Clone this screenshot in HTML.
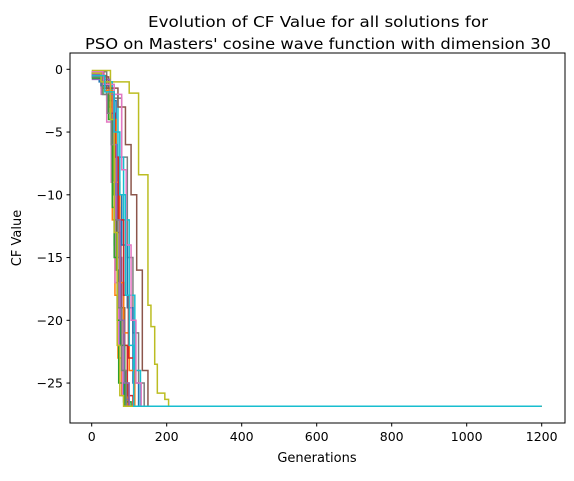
<!DOCTYPE html>
<html><head><meta charset="utf-8"><style>
body{margin:0;background:#fff}
svg{font-family:"DejaVu Sans","Liberation Sans",sans-serif}
</style></head><body>
<svg id="c" width="574" height="476" xmlns="http://www.w3.org/2000/svg">
<rect width="574" height="476" fill="#fff"/>
<text x="318" y="27" font-size="15" text-anchor="middle" textLength="340" lengthAdjust="spacingAndGlyphs">Evolution of CF Value for all solutions for</text>
<text x="318" y="49" font-size="15" text-anchor="middle" textLength="466" lengthAdjust="spacingAndGlyphs">PSO on Masters' cosine wave function with dimension 30</text>
<g id="plot"></g>
<rect x="70" y="53" width="495" height="370" fill="none" stroke="#000" stroke-width="1"/>
<g id="axes"></g>
<text x="317" y="462" font-size="13" text-anchor="middle">Generations</text>
<text x="21" y="238" font-size="13" text-anchor="middle" transform="rotate(-90 21 238)">CF Value</text>
</svg>
<script>
const xTicks=[0,200,400,600,800,1000,1200];
const yTicks=[0,-5,-10,-15,-20,-25];
const finalValue=-26.85;
const lastGen=1200;
const s0=[[0,-0.3],[20,-1],[40,-2.5],[55,-8],[60,-14],[68,-20],[75,-25],[85,-26.5],[100,-26.85]];
const s1=[[0,-0.5],[25,-1.5],[45,-3],[55,-12],[62,-18],[70,-23],[80,-26],[95,-26.85]];
const s2=[[0,-0.4],[30,-1.2],[50,-4],[58,-10],[65,-16],[72,-25],[90,-26.5],[105,-26.85]];
const s3=[[0,-0.6],[35,-1.5],[55,-5],[65,-11],[75,-17],[85,-22],[95,-26],[110,-26.85]];
const s4=[[0,-0.8],[30,-1],[50,-3],[60,-9],[70,-15],[80,-24],[90,-26.3],[100,-26.85]];
const s5=[[0,-0.3],[28,-0.6],[45,-1.5],[60,-6],[68,-13],[78,-19],[88,-25],[98,-26.85]];
const s6=[[0,-0.5],[25,-2],[40,-4.2],[52,-9],[62,-17],[72,-22],[82,-26],[92,-26.85]];
const s7=[[0,-0.2],[40,-2],[60,-2.3],[80,-7],[95,-15],[110,-21],[125,-25],[140,-26.85]];
const s8=[[0,-0.1],[50,-1],[80,-1],[100,-1.9],[115,-1.9],[125,-8.4],[145,-8.4],[150,-18.8],[158,-20.5],[168,-23.5],[175,-25.8],[195,-26.3],[205,-26.85]];
const s9=[[0,-0.4],[30,-1],[55,-2],[70,-7],[85,-12],[100,-18],[115,-24],[130,-26.85]];
const s10=[[0,-0.6],[25,-1.3],[50,-2.5],[65,-10],[80,-14],[95,-19],[110,-25],[125,-26.85]];
const s11=[[0,-0.5],[35,-1.7],[55,-4],[65,-9],[75,-17],[85,-21],[100,-24],[115,-26.85]];
const s12=[[0,-0.7],[30,-2],[45,-4],[55,-11],[60,-15],[68,-20],[78,-22],[88,-26.85]];
const s13=[[0,-0.3],[32,-1.2],[50,-3.5],[62,-7],[72,-12],[85,-18],[98,-23],[112,-26.85]];
const s14=[[0,-0.4],[30,-0.8],[48,-2],[58,-6],[66,-12],[76,-20],[86,-25],[100,-26.85]];
const s15=[[0,-0.5],[40,-1.5],[70,-3],[90,-6],[105,-10],[120,-16],[135,-24],[150,-26.85]];
const s16=[[0,-0.2],[30,-1.2],[60,-2],[80,-8],[92,-14],[105,-20],[118,-25],[132,-26.85]];
const s17=[[0,-0.6],[28,-2],[42,-3.5],[52,-6],[60,-12],[70,-19],[80,-24],[92,-26.85]];
const s18=[[0,-0.3],[25,-1],[50,-4],[60,-13],[68,-22],[75,-26],[85,-26.85]];
const s19=[[0,-0.5],[35,-1.8],[60,-5],[75,-10],[90,-18],[100,-22],[112,-26.85]];
const series=[s0,s1,s2,s3,s4,s5,s6,s7,s8,s9,s10,s11,s12,s13,s14,s15,s16,s17,s18,s19];
const colors=["#1f77b4","#ff7f0e","#2ca02c","#d62728","#9467bd","#8c564b","#e377c2","#7f7f7f","#bcbd22","#17becf"];
const X=v=>91.7+v*0.375;
const Y=v=>69.3-v*12.55;
const NS="http://www.w3.org/2000/svg";
const plot=document.getElementById('plot'),axes=document.getElementById('axes');
series.forEach((s,i)=>{
  let d="M"+X(s[0][0])+","+Y(s[0][1]);
  for(let k=1;k<s.length;k++){d+=" H"+X(s[k][0])+" V"+Y(s[k][1]);}
  d+=" H"+X(lastGen);
  const p=document.createElementNS(NS,'path');
  p.setAttribute('d',d);p.setAttribute('fill','none');
  p.setAttribute('stroke',colors[i%10]);p.setAttribute('stroke-width','1.5');
  
  
  plot.appendChild(p);
});
xTicks.forEach(t=>{
  const l=document.createElementNS(NS,'line');
  l.setAttribute('x1',X(t));l.setAttribute('x2',X(t));l.setAttribute('y1',423);l.setAttribute('y2',426.5);l.setAttribute('stroke','#000');
  
  
  axes.appendChild(l);
  const tx=document.createElementNS(NS,'text');
  tx.setAttribute('x',X(t));tx.setAttribute('y',441);tx.setAttribute('font-size','12.5');tx.setAttribute('text-anchor','middle');
  tx.textContent=t;
  
  
  axes.appendChild(tx);
});
yTicks.forEach(t=>{
  const l=document.createElementNS(NS,'line');
  l.setAttribute('x1',66.5);l.setAttribute('x2',70);l.setAttribute('y1',Y(t));l.setAttribute('y2',Y(t));l.setAttribute('stroke','#000');
  
  
  axes.appendChild(l);
  const tx=document.createElementNS(NS,'text');
  tx.setAttribute('x',63);tx.setAttribute('y',Y(t)+4.5);tx.setAttribute('font-size','12.5');tx.setAttribute('text-anchor','end');
  tx.textContent=t===0?"0":"\u2212"+(-t);
  
  
  axes.appendChild(tx);
});
</script>
</body></html>
